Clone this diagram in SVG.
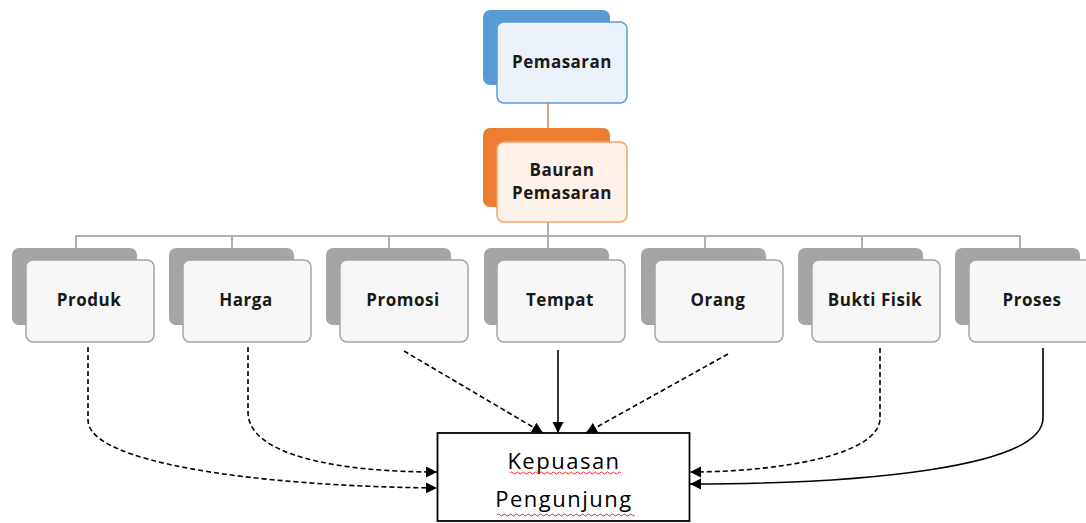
<svg xmlns="http://www.w3.org/2000/svg" width="1086" height="523" viewBox="0 0 1086 523">
<style>
.bk{fill:#A5A5A5}
.fr{fill:#F7F7F7;stroke:#A5A5A5;stroke-width:1.5}
.lbl{font-family:"Open Sans","Liberation Sans",sans-serif;font-weight:700;font-size:17px;letter-spacing:0.5px;fill:#1a1a1a;text-anchor:middle}
.tree{stroke:#B0B0B0;stroke-width:2;fill:none}
.c{fill:none;stroke:#000;stroke-width:1.6}
.d{stroke-dasharray:5 3}
.big{font-family:"Open Sans","Liberation Sans",sans-serif;font-size:22px;letter-spacing:1.5px;fill:#000;text-anchor:middle}
.wave{fill:none;stroke:#E03030;stroke-width:1}
</style>
<defs>
<marker id="ah" markerWidth="12" markerHeight="12" refX="11" refY="5.5" orient="auto" markerUnits="userSpaceOnUse">
<path d="M0,0 L11,5.5 L0,11 Z" fill="#000"/>
</marker>
</defs>
<rect width="1086" height="523" fill="#fff"/>
<g id="tree-lines">
<line x1="548" y1="103" x2="548" y2="128" stroke="#D4A57C" stroke-width="2"/>
<line class="tree" x1="548" y1="222" x2="548" y2="236"/>
<line class="tree" x1="76" y1="236" x2="1021" y2="236"/>
<line class="tree" x1="76" y1="235" x2="76" y2="248"/>
<line class="tree" x1="232" y1="236" x2="232" y2="248"/>
<line class="tree" x1="389" y1="236" x2="389" y2="248"/>
<line class="tree" x1="548" y1="236" x2="548" y2="248"/>
<line class="tree" x1="705" y1="236" x2="705" y2="248"/>
<line class="tree" x1="862" y1="236" x2="862" y2="248"/>
<line class="tree" x1="1020" y1="235" x2="1020" y2="248"/>
</g>
<g id="pemasaran">
<rect x="483" y="10" width="127" height="75" rx="7" fill="#5B9BD5"/>
<rect x="497" y="22" width="130" height="81" rx="7" fill="#EBF1F9" stroke="#5B9BD5" stroke-width="1.5"/>
<text class="lbl" x="562" y="68">Pemasaran</text>
</g>
<g id="bauran">
<rect x="483" y="128" width="127" height="79" rx="7" fill="#ED7D31"/>
<rect x="497" y="142" width="130" height="80" rx="7" fill="#FDF1E9" stroke="#F0A26E" stroke-width="1.5"/>
<text class="lbl" x="562" y="176">Bauran</text>
<text class="lbl" x="562" y="199">Pemasaran</text>
</g>
<g id="produk">
<rect class="bk" x="12" y="248" width="125" height="77" rx="7"/>
<rect class="fr" x="26" y="260" width="128" height="82" rx="7"/>
<text class="lbl" x="89" y="306">Produk</text>
</g>
<g id="harga">
<rect class="bk" x="169" y="248" width="125" height="77" rx="7"/>
<rect class="fr" x="183" y="260" width="128" height="82" rx="7"/>
<text class="lbl" x="246" y="306">Harga</text>
</g>
<g id="promosi">
<rect class="bk" x="326" y="248" width="125" height="77" rx="7"/>
<rect class="fr" x="340" y="260" width="128" height="82" rx="7"/>
<text class="lbl" x="403" y="306">Promosi</text>
</g>
<g id="tempat">
<rect class="bk" x="484" y="248" width="125" height="77" rx="7"/>
<rect class="fr" x="497" y="260" width="128" height="82" rx="7"/>
<text class="lbl" x="560" y="306">Tempat</text>
</g>
<g id="orang">
<rect class="bk" x="641" y="248" width="125" height="77" rx="7"/>
<rect class="fr" x="655" y="260" width="128" height="82" rx="7"/>
<text class="lbl" x="718" y="306">Orang</text>
</g>
<g id="bukti-fisik">
<rect class="bk" x="798" y="248" width="125" height="77" rx="7"/>
<rect class="fr" x="812" y="260" width="128" height="82" rx="7"/>
<text class="lbl" x="875" y="306">Bukti Fisik</text>
</g>
<g id="proses">
<rect class="bk" x="955" y="248" width="125" height="77" rx="7"/>
<rect class="fr" x="969" y="260" width="128" height="82" rx="7"/>
<text class="lbl" x="1032" y="306">Proses</text>
</g>
<g id="kepuasan">
<rect x="437.5" y="433" width="252" height="88" fill="#fff" stroke="#000" stroke-width="1.8"/>
<text class="big" x="564" y="469">Kepuasan</text>
<text class="big" x="564" y="507">Pengunjung</text>
<path class="wave" d="M510,473 q1.5,-2 3,0 t3,0 t3,0 t3,0 t3,0 t3,0 t3,0 t3,0 t3,0 t3,0 t3,0 t3,0 t3,0 t3,0 t3,0 t3,0 t3,0 t3,0 t3,0 t3,0 t3,0 t3,0 t3,0 t3,0 t3,0 t3,0 t3,0 t3,0 t3,0 t3,0 t3,0 t3,0 t3,0 t3,0 t3,0 t3,0 t3,0"/>
<path class="wave" d="M497,515 q1.5,-2 3,0 t3,0 t3,0 t3,0 t3,0 t3,0 t3,0 t3,0 t3,0 t3,0 t3,0 t3,0 t3,0 t3,0 t3,0 t3,0 t3,0 t3,0 t3,0 t3,0 t3,0 t3,0 t3,0 t3,0 t3,0 t3,0 t3,0 t3,0 t3,0 t3,0 t3,0 t3,0 t3,0 t3,0 t3,0 t3,0 t3,0 t3,0 t3,0 t3,0 t3,0 t3,0 t3,0 t3,0 t3,0 t3,0"/>
</g>
<g id="connectors">
<path class="c d" d="M88,347 V420 C88,462 250,486 437,488" marker-end="url(#ah)"/>
<path class="c d" d="M248,347 V412 C248,456 340,472 437,472" marker-end="url(#ah)"/>
<path class="c d" d="M404,351 L543,433" marker-end="url(#ah)"/>
<path class="c" d="M558,350 V433" marker-end="url(#ah)"/>
<path class="c d" d="M728,354 L586,433" marker-end="url(#ah)"/>
<path class="c d" d="M880,348 V418 C880,456 775,472 690,472" marker-end="url(#ah)"/>
<path class="c" d="M1043,348 V418 C1043,468 860,484 690,484" marker-end="url(#ah)"/>
</g>
</svg>
